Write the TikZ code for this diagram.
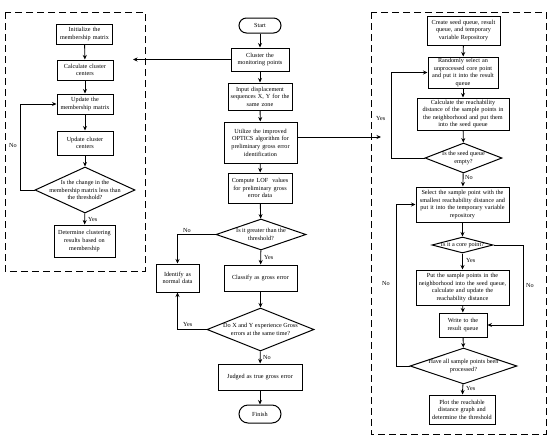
\documentclass[tikz,border=0pt]{standalone}
\usepackage{fontspec}
\setmainfont{Liberation Serif}
\usetikzlibrary{shapes.geometric,shapes.misc,arrows.meta}
\begin{document}
\begin{tikzpicture}[x=1pt,y=-1pt,
  every node/.style={font=\fontsize{6.2}{7.6}\selectfont},
  box/.style={draw,line width=1pt,align=center,inner sep=1pt},
  term/.style={draw,line width=1pt,rounded rectangle,align=center,inner sep=1pt},
  dia/.style={draw,line width=1pt,diamond,inner sep=0pt,minimum width=#1},
  dtext/.style={align=center,inner sep=0pt},
  arr/.style={line width=0.9pt,-{Stealth[length=4.5pt,width=4pt]}},
  lab/.style={inner sep=0pt,anchor=west},
  dashbox/.style={line width=0.8pt,dash pattern=on 7pt off 4pt}]
\useasboundingbox (0,0) rectangle (550,440);
\draw[dashbox] (5,12) rectangle (145,271);
\draw[dashbox] (371,12) rectangle (546,434);
% left column
\node[box,minimum width=56,minimum height=20,text width=54] (init) at (84.5,34) {Initialize the\\membership matrix};
\node[box,minimum width=56,minimum height=20,text width=54] (calc) at (85,70) {Calculate cluster\\centers};
\node[box,minimum width=56,minimum height=20,text width=54] (upd1) at (85,104) {Update the\\membership matrix};
\node[box,minimum width=56,minimum height=24,text width=54] (upd2) at (85,143) {Update cluster\\centers};
\node[dia,minimum width=100,minimum height=46] (d1) at (85,190) {};
\node[dtext] at (85,190) {Is the change in the\\membership matrix less than\\the threshold?};
\node[box,minimum width=61,minimum height=32,text width=59] (det) at (84.5,241) {Determine clustering\\results based on\\membership};
% middle column
\node[term,minimum width=44,minimum height=15] (start) at (260,25.5) {Start};
\node[box,minimum width=58,minimum height=23,text width=56] (cluster) at (260,59.5) {Cluster the\\monitoring points};
\node[box,minimum width=64,minimum height=27,text width=62] (input) at (260,96.5) {Input displacement\\sequences X, Y for the\\same zone};
\node[box,minimum width=73,minimum height=41,text width=71] (util) at (260.5,142.5) {Utilize the improved\\OPTICS algorithm for\\preliminary gross error\\identification};
\node[box,minimum width=64,minimum height=30,text width=62] (lof) at (260,188) {Compute LOF\ \ values\\for preliminary gross\\error data};
\node[dia,minimum width=90,minimum height=31] (d2) at (261,234.5) {};
\node[dtext] at (261,234.5) {Is it greater than the\\threshold?};
\node[box,minimum width=73,minimum height=26,text width=71] (classify) at (260.5,278) {Classify as gross error};
\node[dia,minimum width=107,minimum height=43] (d3) at (260.5,329.5) {};
\node[dtext] at (260.5,329.5) {Do X and Y experience Gross\\errors at the same time?};
\node[box,minimum width=84,minimum height=26,text width=82] (judged) at (260,377) {Judged as true gross error};
\node[term,minimum width=44,minimum height=18] (finish) at (260,414) {Finish};
\node[box,minimum width=43,minimum height=28,text width=41] (normal) at (177.5,278) {Identify as\\normal data};
\coordinate (ltarget) at (133,59.5);
\coordinate (rtarget) at (381,137);
% right column
\node[box,minimum width=73,minimum height=29,text width=71] (create) at (463.5,30.5) {Create seed queue, result\\queue, and temporary\\variable Repository};
\node[box,minimum width=70,minimum height=31,text width=68] (random) at (463,72.5) {Randomly select an\\unprocessed core point\\and put it into the result\\queue};
\node[box,minimum width=92,minimum height=32,text width=90] (reach) at (463,114) {Calculate the reachability\\distance of the sample points in\\the neighborhood and put them\\into the seed queue};
\node[dia,minimum width=77,minimum height=30] (d4) at (463.5,158) {};
\node[dtext] at (463.5,158) {Is the seed queue\\empty?};
\node[box,minimum width=93,minimum height=35,text width=91] (select) at (462.5,204.5) {Select the sample point with the\\smallest reachability distance and\\put it into the temporary variable\\repository};
\node[dia,minimum width=61,minimum height=16] (d5) at (462.5,245) {};
\node[dtext] at (462.5,245) {Is it a core point?};
\node[box,minimum width=93,minimum height=35,text width=91] (put) at (462.5,287.5) {Put the sample points in the\\neighborhood into the seed queue,\\calculate and update the\\reachability distance};
\node[box,minimum width=48,minimum height=24,text width=46] (write) at (463,325) {Write to the\\result queue};
\node[dia,minimum width=107,minimum height=36] (d6) at (463.5,366) {};
\node[dtext] at (463.5,366) {Have all sample points been\\processed?};
\node[box,minimum width=66,minimum height=29,text width=64] (plot) at (462,409.5) {Plot the reachable\\distance graph and\\determine the threshold};
% left connectors
\draw[arr] (init) -- (calc);
\draw[arr] (calc) -- (upd1);
\draw[arr] (upd1) -- (upd2);
\draw[arr] (upd2) -- (d1);
\draw[arr] (d1) -- (det);
\draw[arr] (d1.west) -- ++(-14,0) |- (upd1.west);
\node[lab] at (9,145) {No};
\node[lab] at (88,219) {Yes};
% middle connectors
\draw[arr] (start) -- (cluster);
\draw[arr] (cluster) -- (input);
\draw[arr] (input) -- (util);
\draw[arr] (util) -- (lof);
\draw[arr] (lof) -- (d2);
\draw[arr] (d2) -- (classify);
\draw[arr] (classify) -- (d3);
\draw[arr] (d3) -- (judged);
\draw[arr] (judged) -- (finish);
\draw[arr] (d2.west) -| (normal.north);
\draw[arr] (d3.west) -| (normal.south);
\draw[arr] (cluster.west) -- (ltarget);
\draw[arr] (util.east |- rtarget) -- (rtarget);
\node[lab] at (183,230) {No};
\node[lab] at (264,257) {Yes};
\node[lab] at (183,324) {Yes};
\node[lab] at (263,357) {No};
% right connectors
\draw[arr] (create) -- (random);
\draw[arr] (random) -- (reach);
\draw[arr] (reach) -- (d4);
\draw[arr] (d4) -- (select);
\draw[arr] (select) -- (d5);
\draw[arr] (d5) -- (put);
\draw[arr] (put) -- (write);
\draw[arr] (write) -- (d6);
\draw[arr] (d6) -- (plot);
\draw[arr] (d4.west) -- ++(-33,0) |- (random.west);
\draw[arr] (d5.east) -- ++(29.5,0) |- (write.east);
\draw[arr] (d6.west) -- ++(-13,0) |- (select.west);
\node[lab] at (376,118) {Yes};
\node[lab] at (465,177) {No};
\node[lab] at (466,260) {Yes};
\node[lab] at (526,285) {No};
\node[lab] at (382,283) {No};
\node[lab] at (466,388) {Yes};
\end{tikzpicture}
\end{document}
